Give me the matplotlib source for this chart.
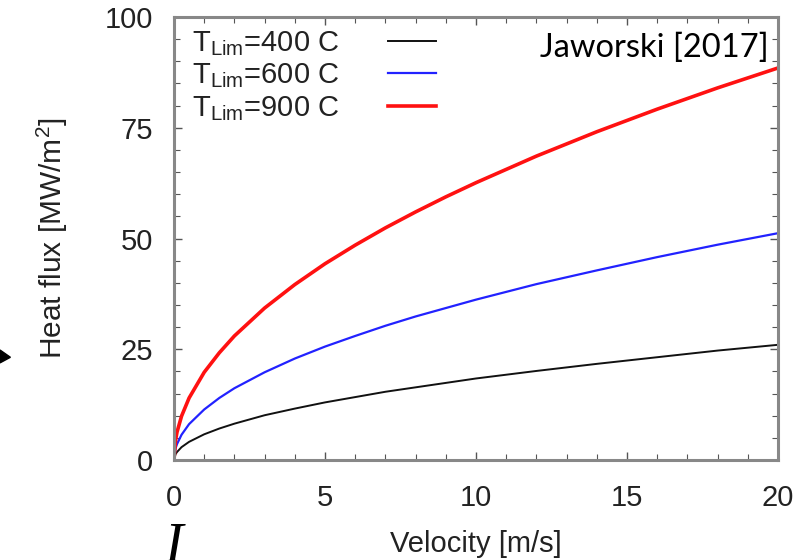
import numpy as np
import matplotlib.pyplot as plt
from matplotlib.patches import Polygon
from matplotlib.ticker import MultipleLocator

# Values
velocity = [0, 0.05, 0.1, 0.25, 0.5, 1, 1.5, 2, 3, 4, 5, 6, 7, 8, 9, 10, 12, 14, 16, 18, 20]
flux_400 = [0, 1.3, 1.8, 2.9, 4.1, 5.8, 7.1, 8.2, 10.1, 11.6, 13.0, 14.2, 15.4, 16.4, 17.4, 18.4, 20.1, 21.7, 23.2, 24.7, 26.0]
flux_600 = [0, 2.6, 3.6, 5.7, 8.1, 11.4, 14.0, 16.2, 19.8, 22.9, 25.6, 28.0, 30.3, 32.4, 34.3, 36.2, 39.7, 42.8, 45.8, 48.6, 51.2]
flux_900 = [0, 4.4, 6.3, 9.9, 14.0, 19.8, 24.2, 28.0, 34.3, 39.6, 44.3, 48.5, 52.4, 56.0, 59.4, 62.6, 68.6, 74.1, 79.2, 84.0, 88.5]

labels = [r"T$_{\mathrm{Lim}}$=400 C", r"T$_{\mathrm{Lim}}$=600 C", r"T$_{\mathrm{Lim}}$=900 C"]

plt.rcParams['font.family'] = ['Liberation Sans', 'DejaVu Sans']
plt.rcParams['mathtext.fontset'] = 'custom'
plt.rcParams['mathtext.rm'] = 'Liberation Sans'

fig = plt.figure(figsize=(8, 5.6), dpi=100)
ax = fig.add_axes([0.2175, 0.1786, 0.755, 0.791])

ax.plot(velocity, flux_400, color='#111111', lw=1.4, label=labels[0])
ax.plot(velocity, flux_600, color='#2222ff', lw=1.6, label=labels[1])
ax.plot(velocity, flux_900, color='#ff1111', lw=2.6, label=labels[2])

ax.set_xlim(0, 20)
ax.set_ylim(0, 100)
ax.set_xticks([0, 5, 10, 15, 20])
ax.set_yticks([0, 25, 50, 75, 100])
ax.xaxis.set_minor_locator(MultipleLocator(1))
ax.yaxis.set_minor_locator(MultipleLocator(5))
ax.tick_params(which='both', direction='in', top=True, right=True, color='#555555',
               labelsize=21, labelcolor='#222222')
ax.tick_params(which='major', length=6, width=1)
ax.tick_params(which='minor', length=4, width=0.8)
ax.tick_params(axis='x', which='major', pad=17)
ax.tick_params(axis='y', which='major', pad=15)
for s in ax.spines.values():
    s.set_color('#888888')
    s.set_linewidth(2.2)

ax.set_xlabel("Velocity [m/s]", fontsize=21, color='#222222', labelpad=13)
ax.set_ylabel(r"Heat flux [MW/m$^2$]", fontsize=21.5, color='#222222', labelpad=25)

leg = ax.legend(loc='upper left', frameon=False, markerfirst=False, fontsize=21,
                handlelength=1.65, labelspacing=0.13, borderaxespad=0.2,
                handletextpad=1.7, bbox_to_anchor=(0.0, 1.013))
for t in leg.get_texts():
    t.set_color('#222222')

ax.text(0.985, 0.93, "Jaworski [2017]", transform=ax.transAxes, ha='right', va='center',
        fontsize=23.5, family=['Lato', 'DejaVu Sans'], color='black')

# stray slide fragments visible in the crop
fig.text(0.205, -0.025, "I", fontsize=40, family=['Liberation Serif'], style='italic',
         color='black', ha='left', va='bottom')
fig.patches.append(Polygon([[0.0, 0.375], [0.013, 0.362], [0.0, 0.352]], closed=True,
                           transform=fig.transFigure, color='black', figure=fig))

fig.savefig("out.png", dpi=100)
